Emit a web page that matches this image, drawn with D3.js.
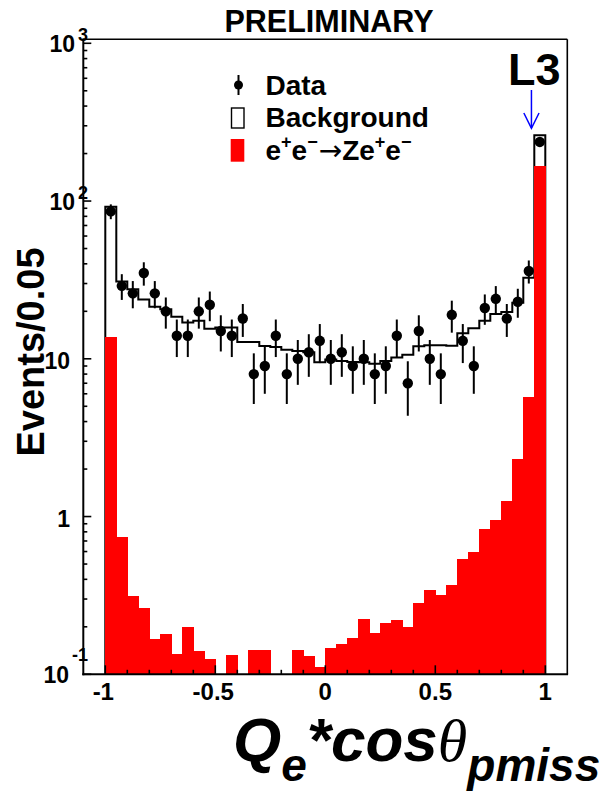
<!DOCTYPE html>
<html>
<head>
<meta charset="utf-8">
<script src="https://cdn.jsdelivr.net/npm/d3@7"></script>
<style>
  html, body { margin: 0; padding: 0; background: #fff; }
  svg { display: block; }
  text { font-family: "Liberation Sans", Arial, Helvetica, sans-serif; font-weight: bold; }
</style>
</head>
<body>
<svg id="chart" width="602" height="794"></svg>
<script>
// ---- data ----
const binLow = [-1.00,-0.95,-0.90,-0.85,-0.80,-0.75,-0.70,-0.65,-0.60,-0.55,
                -0.50,-0.45,-0.40,-0.35,-0.30,-0.25,-0.20,-0.15,-0.10,-0.05,
                 0.00, 0.05, 0.10, 0.15, 0.20, 0.25, 0.30, 0.35, 0.40, 0.45,
                 0.50, 0.55, 0.60, 0.65, 0.70, 0.75, 0.80, 0.85, 0.90, 0.95];
const binWidth = 0.05;
const dataCounts = [86,29,26,35,26,20,14,14,20,22,
                    15,14,18,8,9,14,8,10,11,13,
                    10,11,9,10,8,9,14,7,15,10,
                    8,19,13,9,21,24,18,23,36,237];
const background = [92,30.9,27.6,23.8,21.4,20.6,18.5,17.0,17.4,15.5,
                    15.8,15.8,12.8,12.8,12.05,11.9,11.4,11.2,11.0,9.5,
                    9.9,9.7,9.55,9.5,9.3,9.7,10.2,10.6,12.0,12.2,
                    12.2,12.1,14.5,15.6,17.4,19.2,19.8,22.7,32.6,261];
const signal = [13.7,0.746,0.314,0.265,0.168,0.179,0.134,0.2,0.14,0.1245,
                0,0.133,0,0.143,0.142,0,0,0.142,0.131,0.112,
                0.146,0.155,0.171,0.2255,0.182,0.21,0.222,0.2,0.285,0.341,
                0.32,0.367,0.541,0.596,0.83,0.951,1.26,2.31,5.76,166];
const xMajorTicks = [-1, -0.5, 0, 0.5, 1];
const xMajorLabels = ["-1", "-0.5", "0", "0.5", "1"];
const xMinorTicks = [-0.9,-0.8,-0.7,-0.6,-0.4,-0.3,-0.2,-0.1,0.1,0.2,0.3,0.4,0.6,0.7,0.8,0.9];
const yDecades = [0.1, 1, 10, 100, 1000];
const yDecadeLabels = [{base:"10", exp:"-1"}, {base:"1", exp:null}, {base:"10", exp:null}, {base:"10", exp:"2"}, {base:"10", exp:"3"}];
const arrowX = 0.937;

// ---- layout ----
const L = 83.3, R = 567.3, T = 39.3, B = 674.3;
const svg = d3.select("#chart");
const x = d3.scaleLinear().domain([-1.1, 1.1]).range([L, R]);
const y = d3.scaleLog().domain([0.1, 1060]).range([B, T]);
const yc = v => Math.max(T, Math.min(B, y(v)));

// background outline (stepped)
let p = d3.path();
p.moveTo(x(binLow[0]), B);
background.forEach((v, i) => {
  p.lineTo(x(binLow[i]), yc(v));
  p.lineTo(x(binLow[i] + binWidth), yc(v));
});
p.lineTo(x(binLow[binLow.length - 1] + binWidth), B);
svg.append("path").attr("d", p.toString()).attr("fill", "none")
  .attr("stroke", "#000").attr("stroke-width", 2);

// signal (red)
svg.append("g").attr("shape-rendering", "crispEdges")
  .selectAll("rect").data(signal.map((v, i) => ({v, x0: binLow[i]})).filter(d => d.v > 0.1))
  .join("rect")
  .attr("x", d => x(d.x0))
  .attr("width", d => x(d.x0 + binWidth) - x(d.x0) + 0.8)
  .attr("y", d => yc(d.v))
  .attr("height", d => B - yc(d.v))
  .attr("fill", "#ff0000");

// data points
const gd = svg.append("g");
dataCounts.forEach((n, i) => {
  const cx = x(binLow[i] + binWidth / 2);
  const e = Math.sqrt(n);
  gd.append("line").attr("x1", cx).attr("x2", cx)
    .attr("y1", yc(n + e)).attr("y2", yc(Math.max(n - e, 0.1)))
    .attr("stroke", "#000").attr("stroke-width", 2);
  gd.append("circle").attr("cx", cx).attr("cy", y(n)).attr("r", 5.2).attr("fill", "#000");
});

// frame
svg.append("line").attr("x1", L).attr("x2", R).attr("y1", T).attr("y2", T).attr("stroke", "#000").attr("stroke-width", 1.4);
svg.append("line").attr("x1", R).attr("x2", R).attr("y1", T).attr("y2", B).attr("stroke", "#000").attr("stroke-width", 1.6);
svg.append("line").attr("x1", L).attr("x2", L).attr("y1", T - 0.7).attr("y2", B + 1).attr("stroke", "#000").attr("stroke-width", 2);
svg.append("line").attr("x1", L - 1).attr("x2", R + 0.8).attr("y1", B).attr("y2", B).attr("stroke", "#000").attr("stroke-width", 2);

// x ticks
const gx = svg.append("g");
xMajorTicks.forEach(t => gx.append("line").attr("x1", x(t)).attr("x2", x(t)).attr("y1", B).attr("y2", B - 9).attr("stroke", "#000").attr("stroke-width", 1.6));
xMinorTicks.forEach(t => gx.append("line").attr("x1", x(t)).attr("x2", x(t)).attr("y1", B).attr("y2", B - 4.5).attr("stroke", "#000").attr("stroke-width", 1.6));
xMajorTicks.forEach((t, i) => gx.append("text").attr("x", x(t) - (xMajorLabels[i][0] === "-" ? 2 : 0)).attr("y", 700)
  .attr("text-anchor", "middle").attr("font-size", 24).text(xMajorLabels[i]));

// y ticks
const gy = svg.append("g");
yDecades.forEach(d => {
  gy.append("line").attr("x1", L).attr("x2", L + 8).attr("y1", y(d)).attr("y2", y(d)).attr("stroke", "#000").attr("stroke-width", 1.6);
  if (d < 1000) {
    for (let k = 2; k <= 9; k++) {
      gy.append("line").attr("x1", L).attr("x2", L + 4).attr("y1", y(d * k)).attr("y2", y(d * k)).attr("stroke", "#000").attr("stroke-width", 1.6);
    }
  }
});
yDecades.forEach((d, i) => {
  const lab = yDecadeLabels[i];
  const ty = y(d);
  if (lab.exp === null) {
    gy.append("text").attr("x", 70).attr("y", ty + 10).attr("text-anchor", "end").attr("font-size", 23).text(lab.base);
  } else {
    const t = gy.append("text").attr("x", 88).attr("y", ty + 9).attr("text-anchor", "end").attr("font-size", 23);
    t.append("tspan").text(lab.base);
    const up = lab.exp.startsWith("-") ? 22 : 11;
    t.append("tspan").attr("dx", 3).attr("dy", -up).attr("font-size", 18).text(lab.exp);
  }
});

// title
svg.append("text").attr("x", 329).attr("y", 32).attr("text-anchor", "middle").attr("font-size", 30.5).text("PRELIMINARY");

// L3 and arrow
svg.append("text").attr("x", 508).attr("y", 85).attr("font-size", 45).text("L3");
const ax = x(arrowX);
const ga = svg.append("g").attr("stroke", "#0000ff").attr("stroke-width", 1.5).attr("fill", "none");
ga.append("line").attr("x1", ax).attr("x2", ax).attr("y1", 90).attr("y2", 128);
ga.append("path").attr("d", `M${ax - 7.6},113 L${ax},128.3 L${ax + 7.6},113`);

// legend
const lg = svg.append("g");
lg.append("line").attr("x1", 238.5).attr("x2", 238.5).attr("y1", 75).attr("y2", 95).attr("stroke", "#000").attr("stroke-width", 2);
lg.append("circle").attr("cx", 238.5).attr("cy", 85).attr("r", 4.5).attr("fill", "#000");
lg.append("rect").attr("x", 231.5).attr("y", 108).attr("width", 12.5).attr("height", 20).attr("fill", "#fff").attr("stroke", "#000").attr("stroke-width", 1.4);
lg.append("rect").attr("x", 230.7).attr("y", 139).attr("width", 13.6).attr("height", 22.7).attr("fill", "#ff0000");
lg.append("text").attr("x", 265.5).attr("y", 95).attr("font-size", 28).text("Data");
lg.append("text").attr("x", 265.5).attr("y", 127).attr("font-size", 28).text("Background");
const t3 = lg.append("text").attr("x", 265.5).attr("y", 160).attr("font-size", 28);
const sup = (s) => { t3.append("tspan").attr("dy", -12).attr("font-size", 18).text(s); };
const norm = (s) => { t3.append("tspan").attr("dy", 12).text(s); };
t3.append("tspan").text("e");
sup("+");
norm("e");
sup("\u2212");
t3.append("tspan").attr("dy", 12).attr("dx", 1).attr("font-family", "DejaVu Sans").attr("font-weight", "normal").text("\u2192");
t3.append("tspan").text("Ze");
sup("+");
norm("e");
sup("\u2212");

// axis titles
svg.append("text").attr("transform", "translate(44,352) rotate(-90)").attr("text-anchor", "middle")
  .attr("font-size", 38).text("Events/0.05");

const xt = svg.append("text").attr("x", 233).attr("y", 761).attr("font-size", 62).attr("font-style", "italic");
xt.append("tspan").text("Q");
xt.append("tspan").attr("dy", 20).attr("font-size", 46).text("e");
xt.append("tspan").attr("dy", -20).text("*cos");
xt.append("tspan").attr("font-family", "Liberation Serif, serif").attr("font-weight", "normal").attr("font-size", 60).text("\u03B8");
xt.append("tspan").attr("dy", 20).attr("font-size", 46).text("pmiss");
</script>
</body>
</html>
